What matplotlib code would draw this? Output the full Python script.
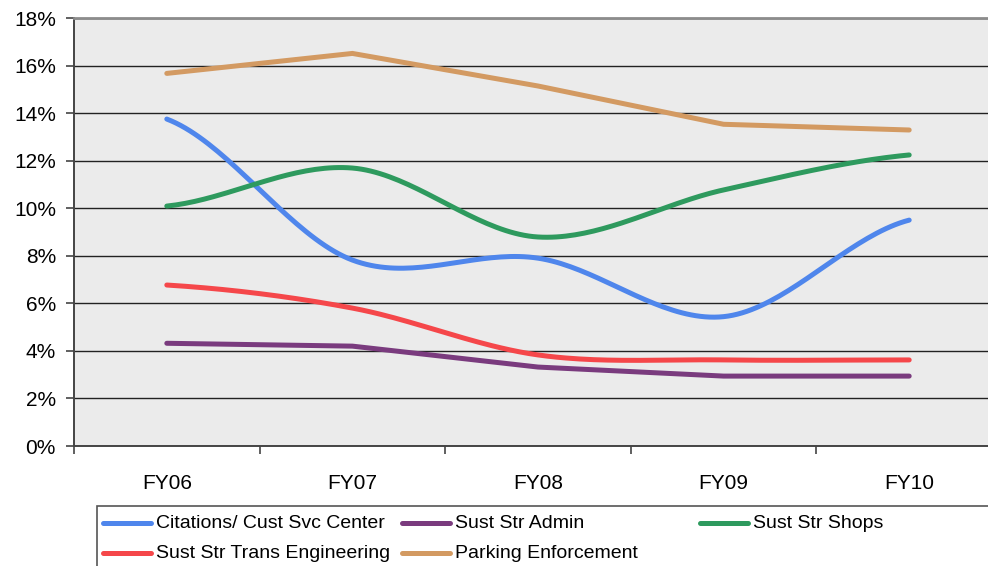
import matplotlib
matplotlib.use("Agg")
import matplotlib.pyplot as plt
import numpy as np
from matplotlib.lines import Line2D
from matplotlib.patches import Rectangle
from matplotlib.ticker import FixedLocator, PercentFormatter

plt.rcParams["font.family"] = ["Liberation Sans", "DejaVu Sans"]

years = ["FY06", "FY07", "FY08", "FY09", "FY10"]
citations = [13.75, 7.82, 7.90, 5.44, 9.50]
admin = [4.32, 4.20, 3.32, 2.94, 2.94]
shops = [10.09, 11.69, 8.79, 10.77, 12.24]
trans_eng = [6.77, 5.80, 3.83, 3.62, 3.62]
parking = [15.67, 16.51, 15.14, 13.53, 13.29]

# (label, values, colour, smoothed line?)
series = [
    ("Citations/ Cust Svc Center", citations, "#4F86EC", True),
    ("Sust Str Admin", admin, "#7A3B7E", False),
    ("Sust Str Shops", shops, "#2E9A5E", True),
    ("Sust Str Trans Engineering", trans_eng, "#F5474A", True),
    ("Parking Enforcement", parking, "#D39A62", False),
]


def smooth(y, n=40):
    # catmull-rom, roughly what Excel's "smoothed line" does
    y = np.asarray(y, float)
    p = np.concatenate([[y[0]], y, [y[-1]]])
    xs, ys = [], []
    for i in range(len(y) - 1):
        p0, p1, p2, p3 = p[i], p[i + 1], p[i + 2], p[i + 3]
        t = np.linspace(0, 1, n, endpoint=False)
        m1, m2 = (p2 - p0) / 2, (p3 - p1) / 2
        h = (2*t**3 - 3*t**2 + 1) * p1 + (t**3 - 2*t**2 + t) * m1 \
            + (-2*t**3 + 3*t**2) * p2 + (t**3 - t**2) * m2
        xs.append(i + t); ys.append(h)
    xs.append([len(y) - 1]); ys.append([y[-1]])
    return np.concatenate(xs), np.concatenate(ys)


fig = plt.figure(figsize=(9.88, 5.66), dpi=100)
ax = fig.add_axes([74 / 988, 120 / 566, 928 / 988, 428 / 566])
ax.set_facecolor("#EBEBEB")

for label, vals, color, smoothed in series:
    if smoothed:
        xs, ys = smooth(vals)
    else:
        xs, ys = np.arange(len(vals)), vals
    ax.plot(xs, ys, color=color, lw=3.6, solid_capstyle="round",
            solid_joinstyle="miter", zorder=3)

ax.set_xlim(-0.5, len(years) - 0.5)
ax.set_ylim(0, 18)
ax.yaxis.set_major_locator(FixedLocator(np.arange(0, 19, 2)))
ax.yaxis.set_major_formatter(PercentFormatter(decimals=0))
ax.grid(axis="y", color="#222222", lw=1.0, zorder=1)
ax.set_axisbelow(True)

ax.set_xticks(range(len(years)))
ax.set_xticklabels(years)
ax.set_xticks(np.arange(-0.5, len(years)), minor=True)
ax.tick_params(axis="x", which="major", length=0, pad=20, labelsize=15)
ax.tick_params(axis="x", which="minor", length=6, width=1.2, color="#444444", direction="out")
ax.tick_params(axis="y", length=6, width=1.2, color="#444444", direction="out", pad=7, labelsize=15)

for s in ("left", "bottom"):
    ax.spines[s].set_color("#444444")
    ax.spines[s].set_linewidth(1.4)
ax.spines["top"].set_color("#8C8C8C")
ax.spines["top"].set_linewidth(2)
ax.spines["right"].set_visible(False)

# legend drawn by hand to get Excel's fixed column positions
W, H = 988, 566
fig.add_artist(Rectangle((97 / W, -0.1), 1.0, (566 - 506) / H + 0.1, transform=fig.transFigure,
                         fill=False, edgecolor="#555555", lw=1.2, clip_on=False))
cols = [103, 402, 700]
rows = [523, 553]
slots = [(0, 0), (1, 0), (2, 0), (0, 1), (1, 1)]
for (label, vals, color, _), (c, r) in zip(series, slots):
    x0 = cols[c]
    y = 1 - rows[r] / H
    fig.add_artist(Line2D([x0 / W, (x0 + 48) / W], [y, y], transform=fig.transFigure,
                          color=color, lw=3.6, solid_capstyle="round"))
    fig.text((x0 + 53) / W, y, label, fontsize=14, va="center", ha="left")

fig.savefig("out.png", dpi=100)
